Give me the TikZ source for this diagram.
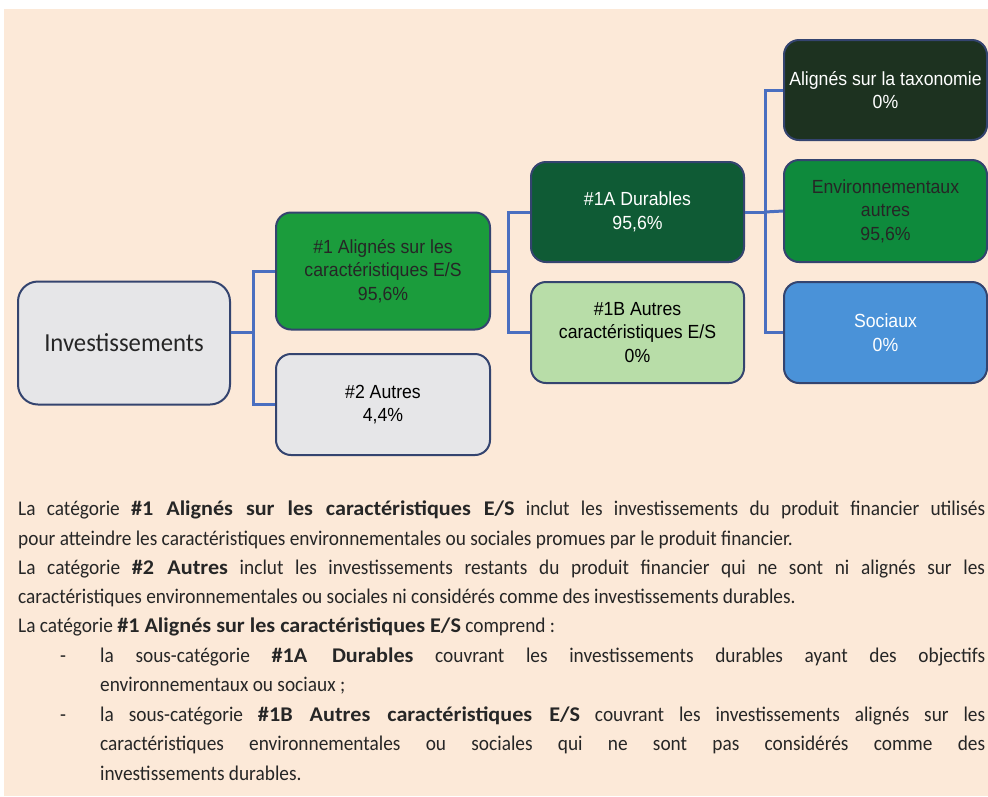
\documentclass[tikz,border=0pt]{standalone}
\usepackage{fontspec}
\setmainfont{Liberation Sans}
\newfontfamily\bodyfont[UprightFeatures={FakeStretch=0.925},BoldFeatures={FakeStretch=1.06}]{Carlito}
\newfontfamily\invfont[FakeStretch=0.95]{Carlito}
\newfontfamily\boxfont[FakeStretch=0.93]{Liberation Sans}
\definecolor{bgpeach}{HTML}{FCE9D8}
\definecolor{edgeblue}{HTML}{34446F}
\definecolor{connblue}{HTML}{4A6FC0}
\definecolor{greybox}{HTML}{E6E6E8}
\definecolor{green1}{HTML}{1B9C3C}
\definecolor{green1a}{HTML}{0F5B35}
\definecolor{green1b}{HTML}{B8DDA8}
\definecolor{taxgreen}{HTML}{1D3220}
\definecolor{envgreen}{HTML}{0E8A3C}
\definecolor{socblue}{HTML}{4A92D8}
\definecolor{textcol}{HTML}{262626}
\begin{document}
\begin{tikzpicture}[x=1pt,y=1pt,
  box/.style={draw=edgeblue, line width=2pt, rounded corners=15pt, align=center,
    inner sep=0pt, font=\boxfont\fontsize{19}{23.5}\selectfont},
  conn/.style={draw=connblue, line width=3pt},
  txt/.style={anchor=base west, inner sep=0pt, text=textcol, font=\bodyfont\fontsize{20.9}{24}\selectfont}]
\useasboundingbox (0,0) rectangle (988,-796);
\fill[white] (0,0) rectangle (988,-796);
\fill[bgpeach] (4,-9) rectangle (988,-796);

% boxes
\node[box, fill=greybox, minimum width=212pt, minimum height=123pt, rounded corners=20pt,
  font=\invfont\fontsize{26}{30}\selectfont, text=textcol] (inv) at (124,-343) {Investissements};
\node[box, fill=green1, text=textcol, minimum width=214pt, minimum height=117pt] (a1) at (383,-271)
  {\#1 Alignés sur les\\caractéristiques E/S\\95,6\%};
\node[box, fill=greybox, text=black, minimum width=214pt, minimum height=101pt] (a2) at (383,-404.5)
  {\#2 Autres\\4,4\%};
\node[box, fill=green1a, text=white, minimum width=213pt, minimum height=100pt] (d1a) at (637.5,-212)
  {\#1A Durables\\95,6\%};
\node[box, fill=green1b, text=black, minimum width=213pt, minimum height=101pt] (d1b) at (637.5,-332.5)
  {\#1B Autres\\caractéristiques E/S\\0\%};
\node[box, fill=taxgreen, text=white, minimum width=203pt, minimum height=100pt] (tax) at (885.5,-90)
  {Alignés sur la taxonomie\\0\%};
\node[box, fill=envgreen, text=textcol, minimum width=203pt, minimum height=102pt] (env) at (885.5,-211)
  {Environnementaux\\autres\\95,6\%};
\node[box, fill=socblue, text=white, minimum width=203pt, minimum height=101pt] (soc) at (885.5,-332.5)
  {Sociaux\\0\%};

% connectors
\coordinate (j1) at (253,-332);
\coordinate (j2) at (508,-271);
\coordinate (j3) at (765,-212);
\draw[conn] ([yshift=11pt]inv.east) -- (j1);
\draw[conn] (a1.west) -- (a1.west -| j1) |- (a2.west);
\draw[conn] (a1.east) -- (j2);
\draw[conn] (d1a.west) -- (d1a.west -| j2) |- (d1b.west);
\draw[conn] (d1a.east) -- (j3);
\draw[conn] (tax.west) -- (tax.west -| j3) |- (soc.west);
\draw[conn] (j3) -- (env.west);

% text
\node[txt] (l1) at (18,-515) {\makebox[967pt][s]{La catégorie \textbf{\#1 Alignés sur les caractéristiques E/S} inclut les investissements du produit financier utilisés}};
\node[txt] (l2) at (18,-545) {pour atteindre les caractéristiques environnementales ou sociales promues par le produit financier.};
\node[txt] (l3) at (18,-574) {\makebox[967pt][s]{La catégorie \textbf{\#2 Autres} inclut les investissements restants du produit financier qui ne sont ni alignés sur les}};
\node[txt] (l4) at (18,-603) {caractéristiques environnementales ou sociales ni considérés comme des investissements durables.};
\node[txt] (l5) at (18,-632) {La catégorie \textbf{\#1 Alignés sur les caractéristiques E/S} comprend :};
\node[txt] (d1) at (60,-662) {-};
\node[txt] (l6) at (100,-662) {\makebox[885pt][s]{la sous-catégorie \textbf{\#1A Durables} couvrant les investissements durables ayant des objectifs}};
\node[txt] (l7) at (100,-691) {environnementaux ou sociaux ;};
\node[txt] (d2) at (60,-721) {-};
\node[txt] (l8) at (100,-721) {\makebox[885pt][s]{la sous-catégorie \textbf{\#1B Autres caractéristiques E/S} couvrant les investissements alignés sur les}};
\node[txt] (l9) at (100,-750) {\makebox[885pt][s]{caractéristiques environnementales ou sociales qui ne sont pas considérés comme des}};
\node[txt] (l10) at (100,-780) {investissements durables.};
\end{tikzpicture}
\end{document}
